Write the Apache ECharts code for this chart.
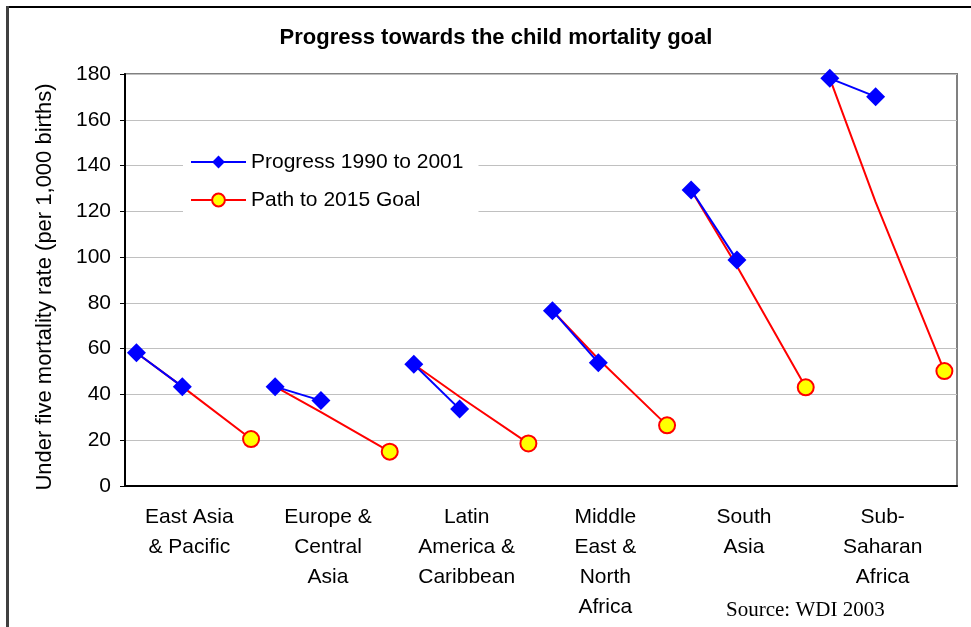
<!DOCTYPE html>
<html>
<head>
<meta charset="utf-8">
<script src="https://cdn.jsdelivr.net/npm/echarts@6/dist/echarts.min.js"></script>
<style>
html,body{margin:0;padding:0;background:#fff;}
#chart{width:971px;height:627px;}
</style>
</head>
<body>
<div id="chart"></div>
<script>
// ---- data ----
const regions = ['East Asia\n& Pacific', 'Europe &\nCentral\nAsia', 'Latin\nAmerica &\nCaribbean', 'Middle\nEast &\nNorth\nAfrica', 'South\nAsia', 'Sub-\nSaharan\nAfrica'];
const progress1990 = [58.2, 43.4, 53.2, 76.6, 129.3, 178.1];
const progress2001 = [43.4, 37.3, 33.6, 53.9, 98.7, 170.1];
const pathMid = [43.4, 32.3, 39.0, 55.5, 96.0, 124.0];
const goal2015 = [20.5, 15.0, 18.6, 26.5, 43.1, 50.2];
const yearPositions = [1990, 2000, 2015];   // horizontal placement within each region
const yTicks = [0, 20, 40, 60, 80, 100, 120, 140, 160, 180];

const NAME_PROGRESS = 'Progress 1990 to 2001';
const NAME_PATH = 'Path to 2015 Goal';
const GROUP_SPAN = 30.25;
const GROUP_START = 1987.5;
function xpos(g, year) { return g * GROUP_SPAN + (year - GROUP_START); }

const FONT = '"Liberation Sans", Arial, sans-serif';
const series = [];
regions.forEach(function (r, g) {
  series.push({
    name: NAME_PATH, type: 'line', xAxisIndex: 1, yAxisIndex: 0, z: 2,
    symbol: 'circle', symbolSize: 16, showAllSymbol: true,
    lineStyle: { color: '#ff0000', width: 2 },
    itemStyle: { color: '#ffff00', borderColor: '#ff0000', borderWidth: 2 },
    data: [
      { value: [xpos(g, yearPositions[0]), progress1990[g]], symbol: 'none' },
      { value: [xpos(g, yearPositions[1]), pathMid[g]], symbol: 'none' },
      { value: [xpos(g, yearPositions[2]), goal2015[g]] }
    ]
  });
});
regions.forEach(function (r, g) {
  series.push({
    name: NAME_PROGRESS, type: 'line', xAxisIndex: 1, yAxisIndex: 0, z: 3,
    symbol: 'diamond', symbolSize: 19, showAllSymbol: true,
    lineStyle: { color: '#0000ff', width: 2 },
    itemStyle: { color: '#0000ff' },
    data: [
      [xpos(g, yearPositions[0]), progress1990[g]],
      [xpos(g, yearPositions[1]), progress2001[g]]
    ]
  });
});

const chart = echarts.init(document.getElementById('chart'), null, { renderer: 'canvas' });
chart.setOption({
  animation: false,
  backgroundColor: '#ffffff',
  textStyle: { fontFamily: FONT },
  grid: { left: 125, right: 14, top: 74, bottom: 141, show: true, borderColor: '#808080', borderWidth: 2, containLabel: false },
  legend: {
    orient: 'vertical', left: 183, top: 142,
    padding: [8, 15, 8, 7], backgroundColor: '#ffffff',
    itemWidth: 55, itemHeight: 16, itemGap: 14,
    data: [NAME_PROGRESS, NAME_PATH],
    textStyle: { fontFamily: FONT, fontSize: 21, color: '#000', lineHeight: 24 }
  },
  xAxis: [
    {
      type: 'category', data: regions, boundaryGap: true,
      axisLine: { lineStyle: { color: '#000', width: 2 } },
      axisTick: { show: false },
      splitLine: { show: false },
      axisLabel: { fontFamily: FONT, fontSize: 21, color: '#000', lineHeight: 30, margin: 16, interval: 0, padding: [0, 10, 0, 0] }
    },
    { type: 'value', min: 0, max: 6 * GROUP_SPAN, show: false }
  ],
  yAxis: {
    type: 'value', min: yTicks[0], max: yTicks[yTicks.length - 1], interval: 20,
    axisLine: { show: true, lineStyle: { color: '#000', width: 2 } },
    axisTick: { show: true, length: 5, lineStyle: { color: '#000', width: 1 } },
    axisLabel: { fontFamily: FONT, fontSize: 21, color: '#000', margin: 14 },
    splitLine: { lineStyle: { color: '#c0c0c0', width: 1 } }
  },
  graphic: [
    { type: 'line', shape: { x1: 7, y1: 7, x2: 971, y2: 7 }, style: { stroke: '#000', lineWidth: 2 }, z: 100 },
    { type: 'line', shape: { x1: 7.5, y1: 6, x2: 7.5, y2: 627 }, style: { stroke: '#404040', lineWidth: 3 }, z: 100 },
    { type: 'text', x: 496, y: 38, style: { text: 'Progress towards the child mortality goal', font: 'bold 22px ' + FONT, fill: '#000', align: 'center', verticalAlign: 'middle' } },
    { type: 'text', x: 45, y: 287, rotation: Math.PI / 2, style: { text: 'Under five mortality rate (per 1,000 births)', font: '22px ' + FONT, fill: '#000', align: 'center', verticalAlign: 'middle' } },
    { type: 'text', x: 726, y: 610, style: { text: 'Source: WDI 2003', font: '21px "Liberation Serif", "Times New Roman", serif', fill: '#000', align: 'left', verticalAlign: 'middle' } }
  ],
  series: series
});
</script>
</body>
</html>
